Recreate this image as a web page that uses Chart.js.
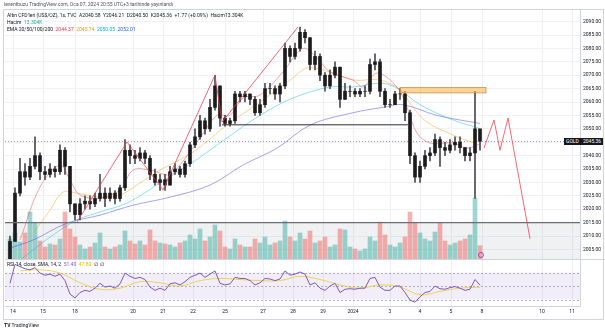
<!DOCTYPE html>
<html><head><meta charset="utf-8">
<script src="https://cdn.jsdelivr.net/npm/chart.js@4"></script>
<style>
html,body{margin:0;padding:0;background:#fff;width:605px;height:332px;overflow:hidden;font-family:Roboto,"Noto Sans",sans-serif;}
#wrap{position:relative;width:605px;height:332px;}
canvas{position:absolute;left:0;top:0;}
.t{position:absolute;white-space:nowrap;font-size:5px;line-height:6px;color:#131722;}
.badge{position:absolute;font-size:5px;line-height:7px;height:7px;color:#fff;background:#131722;padding:0 2px;white-space:nowrap;}
</style></head><body>
<div id="wrap">
<canvas id="c" width="605" height="332"></canvas>
<div class="t" style="left:4px;top:1px;color:#50535e">leventbuzu TradingView.com, Oca 07, 2024 20:55 UTC+3 tarihinde yayınlandı</div>
<div class="t" style="left:7px;top:12px">Altın CFD'leri (US$/OZ), 1s, TVC &nbsp;A2040.58 &nbsp;Y2046.21 &nbsp;D2040.50 &nbsp;K2045.36 &nbsp;+1.77 (+0.09%) &nbsp;Hacim13.304K</div>
<div class="t" style="left:7px;top:19px">Hacim &nbsp;<span style="color:#26a69a">13.304K</span></div>
<div class="t" style="left:7px;top:26px">EMA 20/50/100/200 &nbsp;<span style="color:#f23645">2044.37</span> &nbsp;<span style="color:#ff9800">2045.74</span> &nbsp;<span style="color:#00bcd4">2050.05</span> &nbsp;<span style="color:#2962ff">2052.01</span></div>
<div class="t" id="rsiTitle" style="left:7px;top:261px">RSI 14, close, SMA, 14, 2 &nbsp;<span style="color:#7e57c2">51.40</span> &nbsp;<span style="color:#e0c000">47.80</span> &nbsp;∅ &nbsp;∅</div>
<div class="t" style="left:4px;top:322px;font-size:5px;color:#131722"><b>TV</b> TradingView</div>
<div class="badge" id="bSym">GOLD</div>
<div class="badge" id="bPrice">2045.36</div>
</div>
<script>
// ---- data (bar index = time slot, 1 slot ≈ 4 hours) ----
const firstBar = 1;
const opens = [2001,2008,2026,2034,2032,2036,2040,2034,2033,2035,2034,2042,2036,2022,2018,2022,2023,2022,2024,2026,2024,2026,2024,2028,2042,2040,2039,2041,2039,2033,2030,2031,2029,2034,2035,2033,2037,2044,2047,2053,2050,2058,2066,2054,2052,2053,2063,2062,2063,2061,2056,2059,2065,2065,2063,2066,2080,2077,2080,2086,2084,2074,2077,2070,2066,2070,2073,2061,2064,2064,2063,2064,2064,2074,2075,2064,2059,2059,2063,2063,2056,2040,2032,2036,2040,2041,2046,2043,2042,2044,2045,2043,2040,2041,2050];
const closes = [2008,2026,2034,2032,2036,2040,2034,2033,2035,2034,2042,2036,2022,2018,2022,2023,2022,2024,2026,2024,2026,2024,2028,2042,2040,2039,2041,2039,2033,2030,2031,2029,2034,2035,2033,2037,2044,2047,2053,2050,2058,2066,2054,2052,2053,2063,2062,2063,2061,2056,2059,2065,2065,2063,2066,2080,2077,2080,2086,2084,2074,2077,2070,2066,2070,2073,2061,2064,2064,2063,2064,2064,2074,2075,2064,2059,2059,2063,2063,2056,2040,2032,2036,2040,2041,2046,2043,2042,2044,2045,2043,2040,2041,2050,2045.36];
const highs = [2010,2028,2039,2037,2039,2047,2041,2036,2037,2036,2044,2043,2036,2022,2024,2025,2025,2026,2033,2028,2028,2027,2029,2046,2044,2042,2043,2042,2040,2035,2033,2033,2036,2037,2036,2038,2045,2050,2055,2054,2061,2070,2066,2055,2054,2064,2064,2064,2063,2062,2061,2067,2067,2066,2067,2082,2081,2082,2088,2087,2084,2079,2078,2071,2072,2075,2073,2067,2066,2065,2065,2066,2076,2078,2076,2065,2061,2064,2065,2064,2057,2041,2038,2042,2043,2048,2047,2045,2046,2047,2047,2043,2043,2064,2049];
const lows = [1998,2008,2025,2029,2031,2035,2031,2031,2032,2032,2033,2033,2019,2016,2016,2020,2020,2021,2023,2021,2023,2022,2023,2027,2037,2037,2038,2037,2031,2029,2027,2027,2029,2033,2032,2032,2036,2043,2046,2048,2049,2057,2051,2051,2051,2052,2060,2060,2059,2055,2055,2058,2063,2061,2060,2065,2075,2076,2079,2082,2072,2072,2068,2064,2065,2069,2058,2061,2062,2062,2062,2062,2063,2072,2062,2058,2058,2059,2061,2053,2037,2030,2030,2035,2038,2040,2036,2040,2041,2042,2041,2038,2038,2024,2042];
const volumes = [20,26,17,26,47,36,18,12,15,14,20,47,30,22,14,10,12,16,26,12,10,12,14,28,18,15,18,14,29,18,16,15,14,12,16,18,24,20,30,18,22,34,28,12,10,20,14,12,12,20,16,22,14,16,18,38,22,18,26,20,28,16,18,22,12,14,30,29,12,10,8,10,22,18,37,24,14,12,16,22,47,36,26,20,18,27,36,18,14,16,18,20,24,61,13.3];
const rsi = [55,90,86,82,80,84,74,70,72,68,72,60,35,28,38,42,40,46,55,48,50,46,54,74,68,64,66,62,48,42,46,42,54,56,52,58,66,70,74,66,72,78,55,52,54,66,64,64,60,52,56,64,63,60,63,78,70,72,76,72,52,56,46,42,50,55,38,44,45,44,46,46,64,66,48,42,42,50,50,38,24,20,30,38,40,50,45,44,47,49,46,42,44,62,51.4];
const rsiSma = [[3,78],[7,80],[11,74],[15,56],[19,44],[23,46],[27,58],[31,56],[35,50],[39,60],[43,64],[47,62],[51,60],[55,60],[59,68],[63,62],[67,52],[71,46],[75,52],[79,48],[83,34],[87,40],[91,46],[95,47.8]];
const ema20 = [[3,2008.5],[7,2028.3],[11,2036.5],[13,2030.9],[15,2025.3],[19,2024.2],[23,2027.2],[25.6,2034.6],[29,2034.6],[33,2032.8],[35,2036.5],[39,2046.6],[42.4,2055],[45,2055],[47.6,2061.5],[51,2062.6],[55.6,2071.2],[59.6,2080],[62.4,2076.4],[65,2071.2],[69.6,2068.2],[71.6,2065.6],[74.4,2070.8],[78.4,2065.6],[80.4,2058],[82.4,2048.4],[85,2044.7],[89.6,2044.7],[92.4,2042.8],[95,2044.4]];
const ema50 = [[5.6,2011],[9,2019.7],[11.6,2026.4],[14.4,2026],[19,2024.5],[23,2025.3],[27,2029.8],[31,2034.6],[37.6,2041.3],[44.4,2051.4],[51,2060],[57.6,2069],[60.4,2072.7],[65,2071.2],[69.6,2068.2],[75,2068.2],[79,2064.5],[81.6,2058],[84.4,2052.5],[89.6,2047.7],[93.6,2045],[95,2045.7]];
const ema100 = [[3,2001],[9,2009.6],[14.4,2016],[19,2019],[24.4,2022.3],[31,2029.8],[37.6,2037.6],[44.4,2046.6],[51,2055],[57.6,2061.5],[65,2065.6],[69.6,2065.6],[75.6,2067],[79,2064.5],[83,2059],[89.6,2053.3],[95,2050.1]];
const ema200 = [[1,2005.5],[5.6,2008.5],[12.4,2014.8],[19,2017.8],[25.6,2021.5],[33,2024.5],[41,2029],[47.6,2036.5],[54.4,2042.8],[61,2051.4],[69.6,2056],[75.6,2058],[79.6,2059],[86.4,2055],[95,2052]];
const zigzag = [[14.4,2015.2],[24.4,2045.1],[31.6,2027.2],[42,2070.1],[43.4,2052.5],[58.6,2088]];
const projection = [[95.8,2042.8],[97.8,2053.3],[99,2042],[100.6,2054],[105,2009]];
const resistanceLine = [[43.4,2051.5],[80.6,2051.5]];
const supportLevel = 2015;
const lastPrice = 2045.36;
const zoneBox = {from: 79, to: 96.2, low: 2063.4, high: 2065.4};
const eventMarker = {x: 95.2, rsi: 89};
const priceTicks = [2005,2010,2015,2020,2025,2030,2035,2040,2045,2050,2055,2060,2065,2070,2075,2080,2085,2090];
const rsiTicks = [25,50,75];
const xTickPos = [1.6,7.6,14,25.6,31.6,37.6,44,51.6,57.6,63.6,69.6,77,83,89.2,95.4,107.4,113.4];
const xTickLabels = ['14','15','18','20','21','22','25','27','28','29','2024','3','4','5','8','10','11'];

// ---- ranges ----
const PRICE_MIN = 1983.9, PRICE_MAX = 2094.7, PANE_BOTTOM_PRICE = 2001.4;
const RSI_MIN = 13, RSI_MAX = 563;
const VOL_MIN = -47, VOL_MAX = 250;

const idx = a => a.map((v,k) => ({x: k + firstBar, y: v}));
const pts = a => a.map(p => ({x: p[0], y: p[1]}));
const up = closes.map((c,k) => c >= opens[k]);

const paneClip = {left: 0, top: 0, right: 0, bottom: -47};

const bgPlugin = {
  id: 'bg',
  beforeDatasetsDraw(chart) {
    const {ctx, chartArea: a, scales: {x, y, yRsi}} = chart;
    ctx.save();
    const pb = y.getPixelForValue(PANE_BOTTOM_PRICE);
    const ys = y.getPixelForValue(supportLevel);
    ctx.fillStyle = 'rgba(120,123,134,0.11)';
    ctx.fillRect(a.left, ys, a.right - a.left, pb - ys);
    const r75 = yRsi.getPixelForValue(75), r25 = yRsi.getPixelForValue(25), r50 = yRsi.getPixelForValue(50);
    ctx.fillStyle = 'rgba(126,87,194,0.1)';
    ctx.fillRect(a.left, r75, a.right - a.left, r25 - r75);
    ctx.strokeStyle = 'rgba(120,123,134,0.55)';
    ctx.lineWidth = 1;
    ctx.setLineDash([2,2]);
    [r75, r50, r25].forEach(v => { ctx.beginPath(); ctx.moveTo(a.left, Math.round(v)+0.5); ctx.lineTo(a.right, Math.round(v)+0.5); ctx.stroke(); });
    const lp = y.getPixelForValue(lastPrice);
    ctx.strokeStyle = 'rgba(120,123,134,0.7)';
    ctx.setLineDash([1,2]);
    ctx.beginPath(); ctx.moveTo(a.left, Math.round(lp)+0.5); ctx.lineTo(a.right, Math.round(lp)+0.5); ctx.stroke();
    ctx.setLineDash([]);
    ctx.strokeStyle = '#d1d4dc';
    ctx.beginPath(); ctx.moveTo(a.left, Math.round(pb)+0.5); ctx.lineTo(a.right + 25, Math.round(pb)+0.5); ctx.stroke();
    ctx.restore();
  },
  afterDatasetsDraw(chart) {
    const {ctx, chartArea: a, scales: {x, y, yRsi}} = chart;
    ctx.save();
    const x0 = x.getPixelForValue(zoneBox.from), x1 = x.getPixelForValue(zoneBox.to);
    const y0 = y.getPixelForValue(zoneBox.high), y1 = y.getPixelForValue(zoneBox.low);
    ctx.fillStyle = 'rgba(255,183,77,0.6)';
    ctx.fillRect(x0, y0, x1 - x0, y1 - y0);
    ctx.strokeStyle = 'rgba(190,140,70,0.9)';
    ctx.lineWidth = 0.8;
    ctx.strokeRect(x0, y0, x1 - x0, y1 - y0);
    // event marker
    ctx.strokeStyle = '#9c27b0';
    ctx.lineWidth = 0.8;
    ctx.beginPath();
    ctx.arc(x.getPixelForValue(eventMarker.x), yRsi.getPixelForValue(eventMarker.rsi) - 10, 2.5, 0, Math.PI * 2);
    ctx.stroke();
    ctx.strokeStyle = '#d1d4dc';
    ctx.lineWidth = 1;
    ctx.strokeRect(3.5, a.top + 0.5, 600, 310);
    ctx.restore();
    const lp = y.getPixelForValue(lastPrice);
    const bs = document.getElementById('bSym'), bp = document.getElementById('bPrice');
    bp.style.left = (a.right + 1) + 'px'; bp.style.top = (lp - 3.5) + 'px';
    bs.style.left = (a.right - 16) + 'px'; bs.style.top = (lp - 3.5) + 'px';
  }
};

const tickFont = {family: 'Roboto', size: 5};

new Chart(document.getElementById('c'), {
  type: 'bar',
  data: {
    datasets: [
      {type: 'line', label: 'zigzag', data: pts(zigzag), borderColor: 'rgba(242,54,69,0.75)', borderWidth: 1, pointRadius: 0, order: 1, yAxisID: 'y', clip: paneClip},
      {type: 'line', label: 'projection', data: pts(projection), borderColor: 'rgba(242,54,69,0.75)', borderWidth: 1, pointRadius: 0, order: 1, yAxisID: 'y', clip: paneClip},
      {type: 'line', label: 'resistance', data: pts(resistanceLine), borderColor: '#2a2e39', borderWidth: 1, pointRadius: 0, order: 1, yAxisID: 'y'},
      {type: 'line', label: 'support', data: [{x: 0, y: supportLevel}, {x: 115, y: supportLevel}], borderColor: '#6a6d78', borderWidth: 1.2, pointRadius: 0, order: 1, yAxisID: 'y'},
      {type: 'bar', label: 'body', data: idx(closes).map((p,k) => ({x: p.x, y: [opens[k], closes[k]]})), backgroundColor: '#1c1c1c', barThickness: 3, grouped: false, order: 2, yAxisID: 'y', clip: paneClip},
      {type: 'bar', label: 'wick', data: idx(closes).map((p,k) => ({x: p.x, y: [lows[k], highs[k]]})), backgroundColor: '#4a4b51', barThickness: 1, grouped: false, order: 3, yAxisID: 'y', clip: paneClip},
      {type: 'line', label: 'EMA20', data: pts(ema20), borderColor: 'rgba(242,54,69,0.45)', borderWidth: 1, pointRadius: 0, tension: 0.35, order: 5, yAxisID: 'y', clip: paneClip},
      {type: 'line', label: 'EMA50', data: pts(ema50), borderColor: 'rgba(255,152,0,0.45)', borderWidth: 1, pointRadius: 0, tension: 0.35, order: 5, yAxisID: 'y', clip: paneClip},
      {type: 'line', label: 'EMA100', data: pts(ema100), borderColor: 'rgba(0,188,212,0.45)', borderWidth: 1, pointRadius: 0, tension: 0.35, order: 5, yAxisID: 'y', clip: paneClip},
      {type: 'line', label: 'EMA200', data: pts(ema200), borderColor: 'rgba(80,70,235,0.5)', borderWidth: 1, pointRadius: 0, tension: 0.35, order: 5, yAxisID: 'y', clip: paneClip},
      {type: 'bar', label: 'volume', data: idx(volumes), backgroundColor: up.map(u => u ? 'rgba(38,166,154,0.45)' : 'rgba(239,83,80,0.45)'), barThickness: 4, grouped: false, order: 10, yAxisID: 'yVol', clip: paneClip},
      {type: 'line', label: 'RSI', data: idx(rsi), borderColor: '#7e57c2', borderWidth: 1, pointRadius: 0, order: 1, yAxisID: 'yRsi'},
      {type: 'line', label: 'RSI SMA', data: pts(rsiSma), borderColor: 'rgba(235,205,40,0.8)', borderWidth: 1, pointRadius: 0, tension: 0.4, order: 2, yAxisID: 'yRsi'}
    ]
  },
  options: {
    responsive: false, animation: false, events: [],
    layout: {padding: {left: 5, top: 9, right: 0, bottom: 0}},
    plugins: {legend: {display: false}, tooltip: {enabled: false}},
    scales: {
      x: {type: 'linear', min: 0, max: 115, position: 'bottom', offset: false,
          afterBuildTicks: s => { s.ticks = xTickPos.map(v => ({value: v})); },
          afterFit: s => { s.height = 26; },
          ticks: {font: tickFont, color: '#131722', padding: 3, maxRotation: 0, autoSkip: false,
                  callback: (v, i) => xTickLabels[i]},
          grid: {color: '#eef0f4', drawTicks: false, offset: false}, border: {color: '#d1d4dc'}},
      yRsi: {type: 'linear', position: 'right', weight: 0, min: RSI_MIN, max: RSI_MAX,
          afterBuildTicks: s => { s.ticks = rsiTicks.map(v => ({value: v})); },
          afterFit: s => { s.width = 0; },
          ticks: {font: tickFont, color: '#131722', padding: 3, callback: v => v.toFixed(2)},
          grid: {display: false}, border: {display: false}},
      y: {type: 'linear', position: 'right', weight: 1, min: PRICE_MIN, max: PRICE_MAX,
          afterBuildTicks: s => { s.ticks = priceTicks.map(v => ({value: v})); },
          afterFit: s => { s.width = 25; },
          ticks: {font: tickFont, color: '#131722', padding: 3, callback: v => v.toFixed(2)},
          grid: {color: '#f0f2f5', drawTicks: false}, border: {color: '#d1d4dc'}},
      yVol: {type: 'linear', display: false, position: 'left', min: VOL_MIN, max: VOL_MAX}
    }
  },
  plugins: [bgPlugin]
});
</script>
</body></html>
